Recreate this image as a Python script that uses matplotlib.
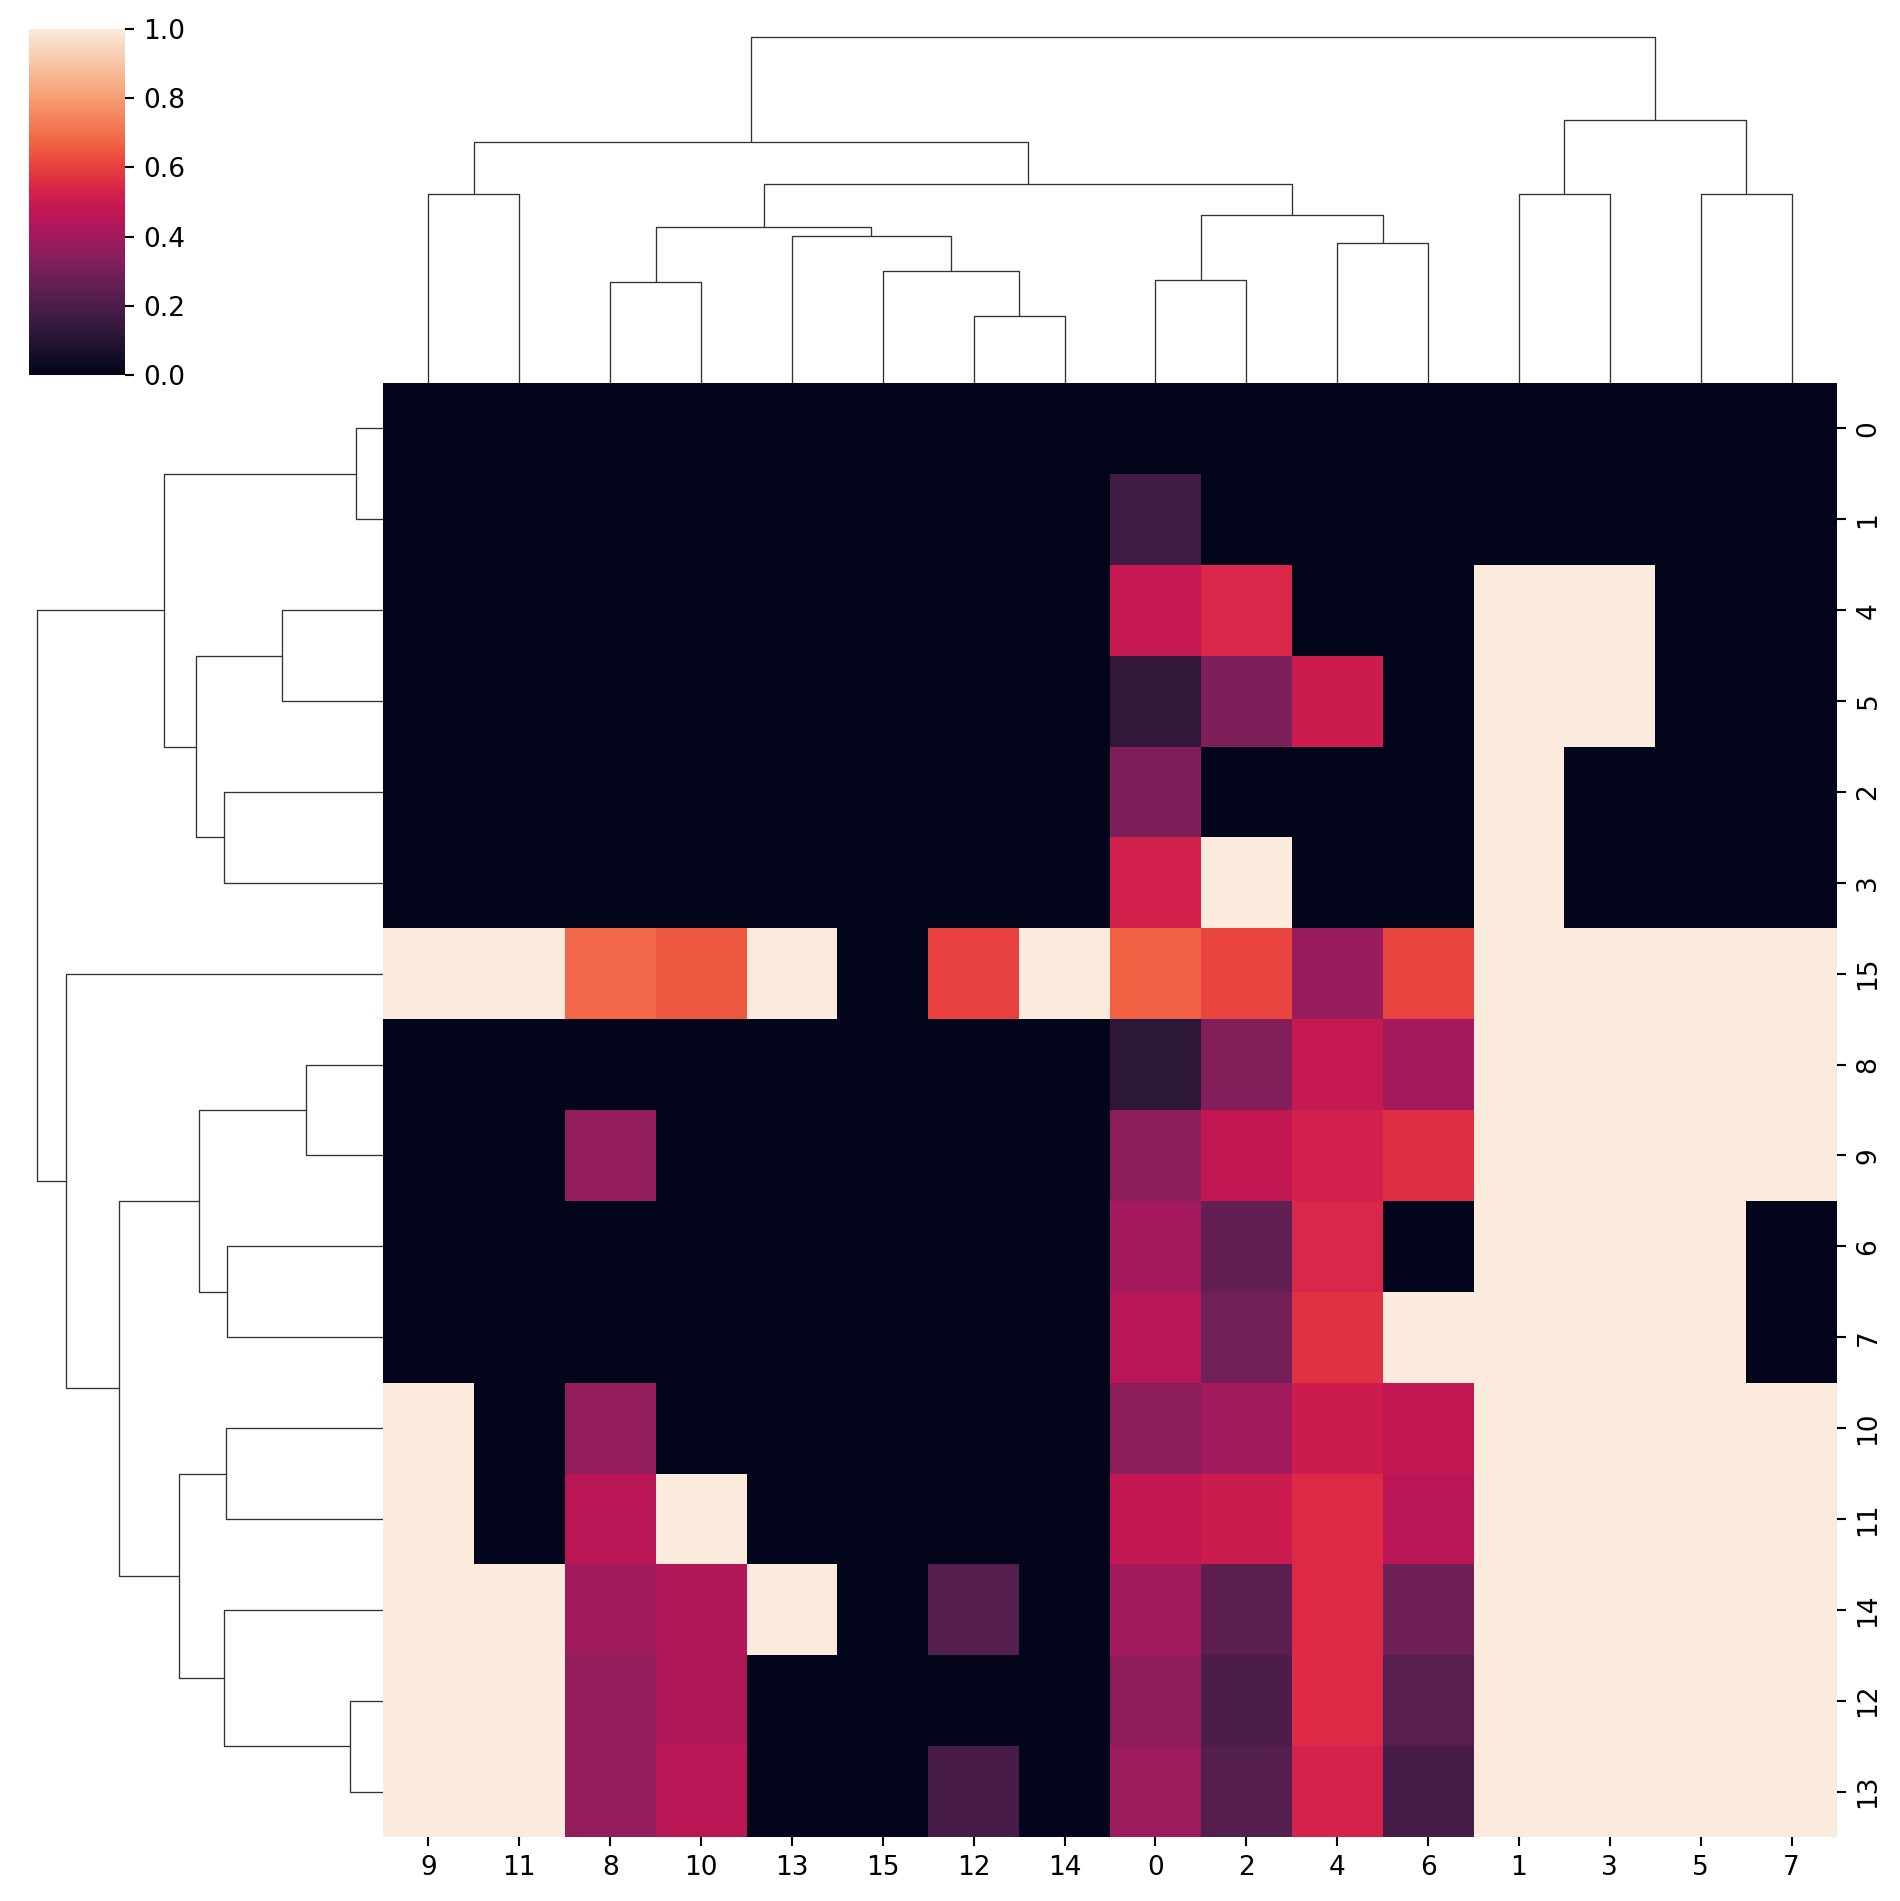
import numpy as np
import matplotlib
matplotlib.use("Agg")
import matplotlib.pyplot as plt
from matplotlib.collections import LineCollection
import seaborn as sns

# cell values, rows 0..15 x columns 0..15 (natural order)
values = [
    [0.00, 0, 0.00, 0, 0.00, 0, 0.00, 0, 0.00, 0, 0.00, 0, 0.00, 0, 0, 0],
    [0.17, 0, 0.00, 0, 0.00, 0, 0.00, 0, 0.00, 0, 0.00, 0, 0.00, 0, 0, 0],
    [0.32, 1, 0.00, 0, 0.00, 0, 0.00, 0, 0.00, 0, 0.00, 0, 0.00, 0, 0, 0],
    [0.52, 1, 1.00, 0, 0.00, 0, 0.00, 0, 0.00, 0, 0.00, 0, 0.00, 0, 0, 0],
    [0.49, 1, 0.54, 1, 0.00, 0, 0.00, 0, 0.00, 0, 0.00, 0, 0.00, 0, 0, 0],
    [0.13, 1, 0.32, 1, 0.50, 0, 0.00, 0, 0.00, 0, 0.00, 0, 0.00, 0, 0, 0],
    [0.41, 1, 0.25, 1, 0.54, 1, 0.00, 0, 0.00, 0, 0.00, 0, 0.00, 0, 0, 0],
    [0.45, 1, 0.29, 1, 0.57, 1, 1.00, 0, 0.00, 0, 0.00, 0, 0.00, 0, 0, 0],
    [0.12, 1, 0.33, 1, 0.49, 1, 0.41, 1, 0.00, 0, 0.00, 0, 0.00, 0, 0, 0],
    [0.35, 1, 0.48, 1, 0.52, 1, 0.56, 1, 0.37, 0, 0.00, 0, 0.00, 0, 0, 0],
    [0.35, 1, 0.40, 1, 0.50, 1, 0.48, 1, 0.37, 1, 0.00, 0, 0.00, 0, 0, 0],
    [0.48, 1, 0.50, 1, 0.55, 1, 0.46, 1, 0.46, 1, 1.00, 0, 0.00, 0, 0, 0],
    [0.36, 1, 0.20, 1, 0.55, 1, 0.23, 1, 0.37, 1, 0.43, 1, 0.00, 0, 0, 0],
    [0.39, 1, 0.22, 1, 0.53, 1, 0.18, 1, 0.37, 1, 0.46, 1, 0.19, 0, 0, 0],
    [0.40, 1, 0.24, 1, 0.55, 1, 0.28, 1, 0.40, 1, 0.44, 1, 0.22, 1, 0, 0],
    [0.67, 1, 0.61, 1, 0.38, 1, 0.61, 1, 0.68, 1, 0.65, 1, 0.60, 1, 1, 0],
]
n = 16

# linkage: (left, right, height); ids >= 16 point at earlier merges (16 + index)
col_links = [
    (9, 11, 1.414),   # 16
    (8, 10, 0.754),   # 17
    (12, 14, 0.501),  # 18
    (15, 18, 0.841),  # 19
    (13, 19, 1.098),  # 20
    (17, 20, 1.165),  # 21
    (0, 2, 0.771),    # 22
    (4, 6, 1.048),    # 23
    (22, 23, 1.257),  # 24
    (21, 24, 1.490),  # 25
    (16, 25, 1.802),  # 26
    (1, 3, 1.414),    # 27
    (5, 7, 1.414),    # 28
    (27, 28, 1.969),  # 29
    (26, 29, 2.592),  # 30
]
row_links = [
    (0, 1, 0.200),    # 16
    (4, 5, 0.758),    # 17
    (2, 3, 1.188),    # 18
    (17, 18, 1.397),  # 19
    (16, 19, 1.637),  # 20
    (8, 9, 0.574),    # 21
    (6, 7, 1.165),    # 22
    (21, 22, 1.375),  # 23
    (10, 11, 1.177),  # 24
    (12, 13, 0.245),  # 25
    (14, 25, 1.188),  # 26
    (24, 26, 1.525),  # 27
    (23, 27, 1.974),  # 28
    (15, 28, 2.370),  # 29
    (20, 29, 2.588),  # 30
]


def dendrogram(links, n):
    order = []
    segs = []

    def walk(node):
        if node < n:
            order.append(node)
            return 5 + 10 * (len(order) - 1), 0.0
        l, r, h = links[node - n]
        xl, hl = walk(l)
        xr, hr = walk(r)
        segs.append([(xl, hl), (xl, h), (xr, h), (xr, hr)])
        return (xl + xr) / 2, h

    walk(n + len(links) - 1)
    return order, segs


col_order, col_segs = dendrogram(col_links, n)
row_order, row_segs = dendrogram(row_links, n)
data = np.array(values)[np.ix_(row_order, col_order)]

W, H = 1900, 1901
fig = plt.figure(figsize=(W / 190, H / 190), dpi=190)


def box(x0, y0, x1, y1):
    # pixel box (top-left origin) -> figure fraction
    return [x0 / W, 1 - y1 / H, (x1 - x0) / W, (y1 - y0) / H]


ax_heat = fig.add_axes(box(383, 383, 1837, 1837))
ax_col = fig.add_axes(box(383, 19.4, 1837, 383))
ax_row = fig.add_axes(box(19.4, 383, 383, 1837))
ax_cbar = fig.add_axes(box(29, 29, 125, 375))

cmap = sns.color_palette("rocket", as_cmap=True)
mesh = ax_heat.pcolormesh(np.arange(n + 1), np.arange(n + 1), data, cmap=cmap, vmin=0, vmax=1)
ax_heat.set_xlim(0, n)
ax_heat.set_ylim(n, 0)
ax_heat.set_xticks(np.arange(n) + 0.5)
ax_heat.set_xticklabels([str(c) for c in col_order])
ax_heat.set_yticks(np.arange(n) + 0.5)
ax_heat.set_yticklabels([str(r) for r in row_order], rotation=90, va="center")
ax_heat.yaxis.set_ticks_position("right")
for s in ax_heat.spines.values():
    s.set_visible(False)

# column dendrogram
ax_col.add_collection(LineCollection(col_segs, linewidths=0.5, colors=[(0.2, 0.2, 0.2)]))
ax_col.set_xlim(0, n * 10)
ax_col.set_ylim(0, max(h for _, _, h in col_links) * 1.05)
ax_col.set_axis_off()

# row dendrogram (rotated)
row_segs_rot = [[(y, x) for x, y in seg] for seg in row_segs]
ax_row.add_collection(LineCollection(row_segs_rot, linewidths=0.5, colors=[(0.2, 0.2, 0.2)]))
ax_row.set_ylim(0, n * 10)
ax_row.set_xlim(0, max(h for _, _, h in row_links) * 1.05)
ax_row.invert_xaxis()
ax_row.invert_yaxis()
ax_row.set_axis_off()

cb = fig.colorbar(mesh, cax=ax_cbar)
cb.outline.set_linewidth(0)
cb.set_ticks([0.0, 0.2, 0.4, 0.6, 0.8, 1.0])

fig.savefig("out.png", dpi=190)
